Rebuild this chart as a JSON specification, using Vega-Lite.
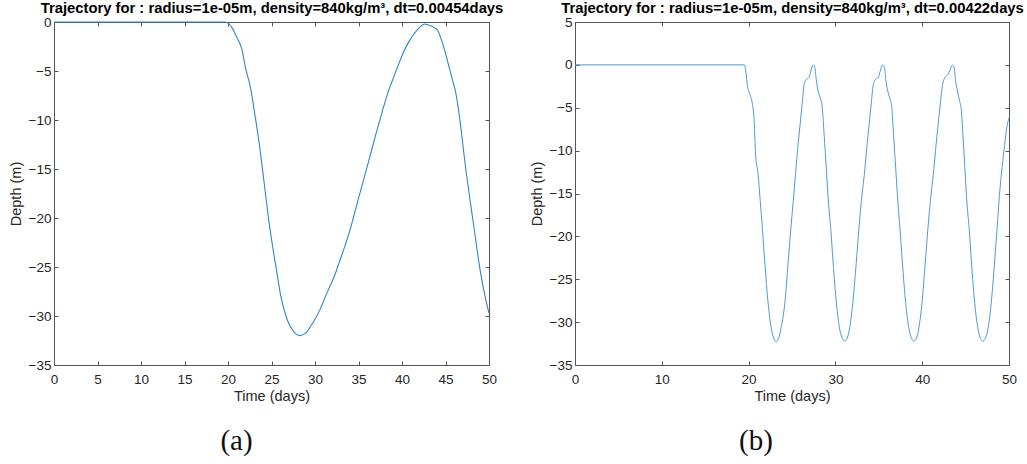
{
  "$schema": "https://vega.github.io/schema/vega-lite/v6.json",
  "background": "white",
  "padding": {"left": 8, "top": 0, "right": 0, "bottom": 5},
  "bounds": "flush",
  "spacing": 86,
  "config": {
    "view": {"stroke": null},
    "font": "Liberation Sans",
    "axis": {
      "domainColor": "#555555",
      "tickColor": "#555555",
      "tickSize": -4,
      "labelFlush": false,
      "labelOverlap": false,
      "labelColor": "#262626",
      "labelFontSize": 13.5,
      "labelFont": "Liberation Sans",
      "titleColor": "#262626",
      "titleFontSize": 14.5,
      "titleFontWeight": "normal",
      "titleFont": "Liberation Sans",
      "grid": false
    },
    "title": {"font": "Liberation Serif", "fontSize": 29, "fontWeight": "normal", "color": "#111111", "orient": "bottom"}
  },
  "datasets": {
    "a": [
      {"t": 0, "d": 0}, {"t": 19.73, "d": 0}, {"t": 20.1, "d": -0.2}, {"t": 20.5, "d": -0.65},
      {"t": 21.07, "d": -1.67}, {"t": 21.57, "d": -2.69}, {"t": 22.03, "d": -4.73}, {"t": 22.6, "d": -6.77},
      {"t": 23.1, "d": -9.5}, {"t": 23.56, "d": -12.2}, {"t": 24.14, "d": -16.3}, {"t": 24.71, "d": -20.4},
      {"t": 25.29, "d": -23.8}, {"t": 25.7, "d": -26.0}, {"t": 26.05, "d": -27.9}, {"t": 26.63, "d": -29.9},
      {"t": 27.0, "d": -30.8}, {"t": 27.4, "d": -31.4}, {"t": 27.85, "d": -31.85}, {"t": 28.28, "d": -32.0},
      {"t": 28.7, "d": -31.85}, {"t": 29.1, "d": -31.6}, {"t": 29.6, "d": -30.9}, {"t": 30.08, "d": -30.2},
      {"t": 30.6, "d": -29.3}, {"t": 31.2, "d": -28.0}, {"t": 31.6, "d": -27.2}, {"t": 32.2, "d": -26.0},
      {"t": 32.76, "d": -24.6}, {"t": 33.9, "d": -21.6}, {"t": 35.06, "d": -17.8}, {"t": 36.2, "d": -14.1},
      {"t": 37.36, "d": -10.3}, {"t": 38.5, "d": -6.9}, {"t": 39.1, "d": -5.5}, {"t": 39.66, "d": -4.2},
      {"t": 40.2, "d": -3.0}, {"t": 40.8, "d": -2.0}, {"t": 41.3, "d": -1.3}, {"t": 41.76, "d": -0.8},
      {"t": 42.2, "d": -0.4}, {"t": 42.6, "d": -0.2}, {"t": 43.0, "d": -0.3}, {"t": 43.5, "d": -0.47},
      {"t": 44.06, "d": -0.8}, {"t": 44.6, "d": -2.0}, {"t": 45.0, "d": -3.2}, {"t": 45.4, "d": -4.56},
      {"t": 45.8, "d": -5.9}, {"t": 46.2, "d": -7.3}, {"t": 46.55, "d": -9.3}, {"t": 46.9, "d": -11.8},
      {"t": 47.3, "d": -14.8}, {"t": 47.7, "d": -17.4}, {"t": 48.1, "d": -19.9}, {"t": 48.5, "d": -22.4},
      {"t": 48.85, "d": -24.6}, {"t": 49.3, "d": -26.9}, {"t": 49.7, "d": -28.6}, {"t": 50, "d": -29.7}
    ],
    "b": [
      {"t": 0, "d": 0}, {"t": 19.49, "d": 0}, {"t": 19.64, "d": -0.5}, {"t": 19.87, "d": -2.45},
      {"t": 20.14, "d": -3.4}, {"t": 20.41, "d": -4.4}, {"t": 20.64, "d": -6.5}, {"t": 20.8, "d": -10.4},
      {"t": 21.1, "d": -12.8}, {"t": 21.35, "d": -16.0}, {"t": 21.6, "d": -19.2}, {"t": 21.87, "d": -23.1},
      {"t": 22.25, "d": -27.8}, {"t": 22.64, "d": -30.9}, {"t": 22.9, "d": -31.9}, {"t": 23.21, "d": -32.27},
      {"t": 23.45, "d": -31.9}, {"t": 23.7, "d": -30.9}, {"t": 24.17, "d": -27.8}, {"t": 24.55, "d": -23.1},
      {"t": 24.86, "d": -19.2}, {"t": 25.15, "d": -15.8}, {"t": 25.4, "d": -12.8}, {"t": 25.7, "d": -9.3},
      {"t": 25.9, "d": -7.3}, {"t": 26.17, "d": -4.6}, {"t": 26.4, "d": -2.25}, {"t": 26.66, "d": -1.67},
      {"t": 26.97, "d": -1.47}, {"t": 27.17, "d": -0.7}, {"t": 27.43, "d": 0}, {"t": 27.63, "d": -0.3},
      {"t": 27.81, "d": -1.86}, {"t": 28.0, "d": -3.03}, {"t": 28.3, "d": -4.0}, {"t": 28.47, "d": -4.8},
      {"t": 28.7, "d": -8.1}, {"t": 28.97, "d": -12.4}, {"t": 29.2, "d": -16.0}, {"t": 29.47, "d": -19.2},
      {"t": 29.74, "d": -23.1}, {"t": 30.12, "d": -27.8}, {"t": 30.51, "d": -30.9}, {"t": 30.8, "d": -31.9},
      {"t": 31.08, "d": -32.2}, {"t": 31.35, "d": -31.9}, {"t": 31.6, "d": -30.9}, {"t": 32.0, "d": -27.8},
      {"t": 32.4, "d": -23.1}, {"t": 32.7, "d": -19.2}, {"t": 33.0, "d": -15.8}, {"t": 33.35, "d": -12.6},
      {"t": 33.65, "d": -9.3}, {"t": 33.85, "d": -7.3}, {"t": 34.12, "d": -4.6}, {"t": 34.37, "d": -2.3},
      {"t": 34.63, "d": -1.7}, {"t": 34.95, "d": -1.45}, {"t": 35.17, "d": -0.7}, {"t": 35.45, "d": 0},
      {"t": 35.65, "d": -0.3}, {"t": 35.83, "d": -1.9}, {"t": 36.02, "d": -3.0}, {"t": 36.3, "d": -4.0},
      {"t": 36.48, "d": -4.8}, {"t": 36.7, "d": -8.1}, {"t": 36.97, "d": -12.4}, {"t": 37.2, "d": -16.0},
      {"t": 37.45, "d": -19.2}, {"t": 37.72, "d": -23.1}, {"t": 38.1, "d": -27.8}, {"t": 38.5, "d": -30.9},
      {"t": 38.78, "d": -31.9}, {"t": 39.06, "d": -32.2}, {"t": 39.33, "d": -31.9}, {"t": 39.58, "d": -30.9},
      {"t": 39.97, "d": -27.8}, {"t": 40.35, "d": -23.1}, {"t": 40.65, "d": -19.2}, {"t": 40.95, "d": -15.8},
      {"t": 41.3, "d": -12.6}, {"t": 41.6, "d": -9.3}, {"t": 41.8, "d": -7.3}, {"t": 42.08, "d": -4.6},
      {"t": 42.35, "d": -2.3}, {"t": 42.6, "d": -1.5}, {"t": 42.97, "d": -1.1}, {"t": 43.2, "d": -0.6},
      {"t": 43.47, "d": 0}, {"t": 43.67, "d": -0.3}, {"t": 43.85, "d": -1.9}, {"t": 44.05, "d": -3.0},
      {"t": 44.3, "d": -4.2}, {"t": 44.48, "d": -5.0}, {"t": 44.7, "d": -8.3}, {"t": 44.95, "d": -12.6},
      {"t": 45.15, "d": -16.0}, {"t": 45.42, "d": -19.2}, {"t": 45.68, "d": -23.1}, {"t": 46.05, "d": -27.8},
      {"t": 46.45, "d": -30.9}, {"t": 46.72, "d": -31.9}, {"t": 47.0, "d": -32.2}, {"t": 47.28, "d": -31.9},
      {"t": 47.55, "d": -30.9}, {"t": 47.95, "d": -27.8}, {"t": 48.33, "d": -23.1}, {"t": 48.62, "d": -19.2},
      {"t": 48.9, "d": -15.2}, {"t": 49.2, "d": -12.0}, {"t": 49.5, "d": -9.3}, {"t": 49.78, "d": -7.1},
      {"t": 50, "d": -6.2}
    ]
  },
  "hconcat": [
    {
      "width": 435,
      "height": 343,
      "title": {"text": "(a)", "dx": -35, "offset": 24},
      "data": {"name": "a"},
      "resolve": {"axis": {"x": "independent", "y": "independent"}},
      "layer": [
        {
          "mark": {"type": "line", "strokeOpacity": 0},
          "encoding": {
            "x": {"field": "t", "type": "quantitative",
                  "axis": {"orient": "top", "labels": false, "values": [0,5,10,15,20,25,30,35,40,45,50],
                           "title": "Trajectory for : radius=1e-05m, density=840kg/m³, dt=0.00454days",
                           "titleFontWeight": "bold", "titleFontSize": 14.8, "titleColor": "#000000", "titlePadding": 6}},
            "y": {"field": "d", "type": "quantitative",
                  "axis": {"orient": "right", "labels": false, "title": null, "values": [0,-5,-10,-15,-20,-25,-30,-35]}}
          }
        },
        {
          "mark": {"type": "line", "color": "#2f86cc", "strokeWidth": 1.1, "clip": false, "interpolate": "monotone"},
          "encoding": {
            "x": {"field": "t", "type": "quantitative", "scale": {"domain": [0, 50], "nice": false, "zero": false},
                  "axis": {"title": "Time (days)", "orient": "bottom", "values": [0,5,10,15,20,25,30,35,40,45,50], "labelPadding": 11, "titlePadding": 4}},
            "y": {"field": "d", "type": "quantitative", "scale": {"domain": [-35, 0], "nice": false, "zero": false},
                  "axis": {"title": "Depth (m)", "orient": "left", "values": [0,-5,-10,-15,-20,-25,-30,-35], "labelPadding": 7, "titlePadding": 5}}
          }
        }
      ]
    },
    {
      "width": 434,
      "height": 343,
      "title": {"text": "(b)", "dx": -36, "offset": 24},
      "data": {"name": "b"},
      "resolve": {"axis": {"x": "independent", "y": "independent"}},
      "layer": [
        {
          "mark": {"type": "line", "strokeOpacity": 0},
          "encoding": {
            "x": {"field": "t", "type": "quantitative",
                  "axis": {"orient": "top", "labels": false, "values": [0,10,20,30,40,50],
                           "title": "Trajectory for : radius=1e-05m, density=840kg/m³, dt=0.00422days",
                           "titleFontWeight": "bold", "titleFontSize": 14.8, "titleColor": "#000000", "titlePadding": 6}},
            "y": {"field": "d", "type": "quantitative",
                  "axis": {"orient": "right", "labels": false, "title": null, "values": [5,0,-5,-10,-15,-20,-25,-30,-35]}}
          }
        },
        {
          "mark": {"type": "line", "color": "#3a8fd2", "strokeWidth": 0.9, "clip": false, "interpolate": "monotone"},
          "encoding": {
            "x": {"field": "t", "type": "quantitative", "scale": {"domain": [0, 50], "nice": false, "zero": false},
                  "axis": {"title": "Time (days)", "orient": "bottom", "values": [0,10,20,30,40,50], "labelPadding": 11, "titlePadding": 4}},
            "y": {"field": "d", "type": "quantitative", "scale": {"domain": [-35, 5], "nice": false, "zero": false},
                  "axis": {"title": "Depth (m)", "orient": "left", "values": [5,0,-5,-10,-15,-20,-25,-30,-35], "labelPadding": 7, "titlePadding": 5}}
          }
        }
      ]
    }
  ]
}
